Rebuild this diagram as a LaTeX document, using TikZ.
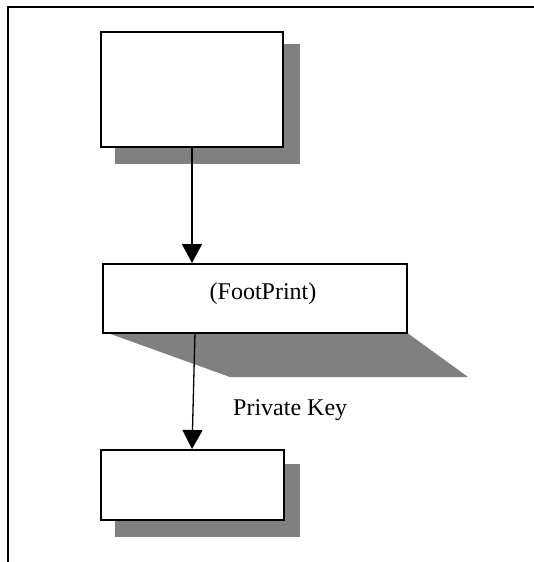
\documentclass[tikz,border=0pt]{standalone}
\usepackage{fontspec}
\setmainfont{Liberation Serif}
\usetikzlibrary{arrows.meta}
\begin{document}
\begin{tikzpicture}[x=1pt,y=-1pt,
  box/.style={draw=black,line width=1.5pt,fill=white,inner sep=0pt,anchor=north west},
  shadowfill/.style={fill=black!50,draw=none},
  conn/.style={line width=1.3pt,-{Triangle[width=20pt,length=19pt]}},
  lbl/.style={font=\fontsize{24}{27}\selectfont,inner sep=0pt}]
\useasboundingbox (0,0) rectangle (534,562);
% frame (top and left edges)
\draw[line width=1.4pt] (534,7) -- (8,7) -- (8,562);
% shadows
\fill[shadowfill] (115,44) rectangle (300,164);
\fill[shadowfill] (105,332) -- (406,332) -- (468,377) -- (230,377) -- cycle;
\fill[shadowfill] (115,464) rectangle (300,537);
% boxes
\node[box,minimum width=182pt,minimum height=115pt] (b1) at (100,31) {};
\node[box,minimum width=304pt,minimum height=69pt] (b2) at (102,263) {};
\node[lbl] (t2) at (263,294) {(FootPrint)};
\node[box,minimum width=183pt,minimum height=70pt] (b3) at (100,449) {};
% connectors
\coordinate (a1) at (192,146);
\coordinate (a2) at (192,263);
\coordinate (a3) at (195,332);
\coordinate (a4) at (192,449);
\draw[conn] (a1) -- (a2);
\draw[conn] (a3) -- (a4);
\node[lbl,anchor=west] (pk) at (233,410) {Private Key};
\end{tikzpicture}
\end{document}
